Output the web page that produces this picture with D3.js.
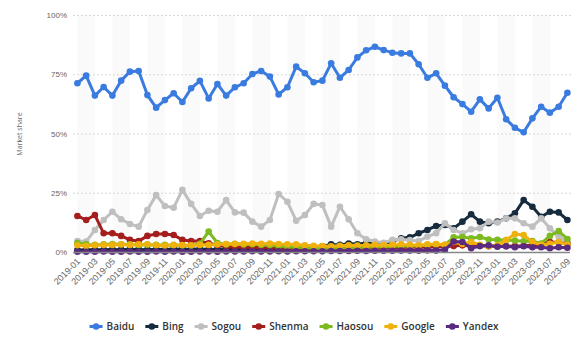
<!DOCTYPE html>
<html><head><meta charset="utf-8">
<script src="https://cdn.jsdelivr.net/npm/d3@7"></script>
<style>
html,body{margin:0;padding:0;background:#fff;}
svg{display:block;font-family:"Open Sans",sans-serif;}
</style></head>
<body><svg id="c" width="586" height="355"></svg>
<script>
const months = ["2019-01","2019-02","2019-03","2019-04","2019-05","2019-06","2019-07","2019-08","2019-09","2019-10","2019-11","2019-12",
"2020-01","2020-02","2020-03","2020-04","2020-05","2020-06","2020-07","2020-08","2020-09","2020-10","2020-11","2020-12",
"2021-01","2021-02","2021-03","2021-04","2021-05","2021-06","2021-07","2021-08","2021-09","2021-10","2021-11","2021-12",
"2022-01","2022-02","2022-03","2022-04","2022-05","2022-06","2022-07","2022-08","2022-09","2022-10","2022-11","2022-12",
"2023-01","2023-02","2023-03","2023-04","2023-05","2023-06","2023-07","2023-08","2023-09"];
const yTicks = [0,25,50,75,100];
const baidu = [71.2,74.4,66,69.6,66,72.3,76.1,76.4,66.2,60.9,64.1,67,63.3,69.1,72.2,64.8,70.9,66,69.5,71.2,75.1,76.4,74,66.5,69.5,78.2,75.4,71.6,72.3,79.6,73.5,76.8,82.1,85.1,86.6,85.2,84.1,83.8,83.8,79.2,73.5,75.4,70.2,65.3,62.4,59.2,64.4,60.6,65.1,56,52.4,50.5,56.4,61.3,58.8,61.3,67.2];
const bing = [0.8,0.9,1,1,1.1,1,1.2,1.1,1,1.2,1.1,1.3,1.2,1.2,1.3,1.1,1.2,1.3,1.2,1.3,1.4,1.3,1.4,1.5,1.6,1.8,1.7,2,2.4,3.2,3,3.6,3.3,3.8,3.5,3.4,4.5,5.8,6.2,7.9,9.3,11,11.4,10,12.8,15.9,12.8,12.1,12.8,14.2,16.3,21.9,19.1,14.9,17,16.7,13.5];
const sogou = [4.6,4.4,9.3,13.5,17,13.8,11.8,10.7,17.7,24,19.4,18.7,26.2,20.3,15.2,17.4,17,21.9,16.7,16.6,12.8,10.7,13.5,24.5,21.2,13.2,15.6,20.3,19.8,10.7,19.1,13.8,7.9,5.4,4.4,3.9,5.1,5.4,5,4.6,6.5,7.9,12.1,9.3,7.9,9.6,10,12.8,12.4,14.2,14.2,12.1,10.7,14.2,10,6.5,4.4];
const shenma = [15.2,13.5,15.6,7.9,7.9,6.8,5.1,4.6,6.8,7.6,7.6,7.2,5.1,4.6,4.6,3.7,3,2.2,2.2,2,2,1.8,1.8,1.6,1.8,1.5,1.6,1.5,1.7,1.6,1.5,1.6,1.7,1.6,1.7,1.8,1.8,1.9,2,2,2,2.2,2.3,2.5,2.8,2.5,2.6,2.4,2.5,2.4,2.5,2.6,3,3.3,4.2,4,3.5];
const haosou = [3.8,3.2,3,3.2,3.4,3.3,3.2,3,3.1,3,3,2.9,2.8,2.7,3.5,8.6,3.8,3.2,3.5,3.2,3.3,3,2.8,2.5,2.2,2,1.8,1.6,1.5,1.6,1.8,2,1.9,2.1,2.2,2.2,2.4,2.5,2.5,2.6,3,3.2,3,6.2,6.3,5.8,6.3,5.3,5.2,5,4.8,4.5,4.6,3.6,6.8,8.8,5.5];
const google = [2.8,2.5,2.8,3,3,3.2,3,3.2,3.3,2.8,2.7,3,2.9,2.8,3,3,3.2,3.4,3.4,3.5,3.6,3.5,3.6,3.4,3.3,3.2,2.8,2.6,2.5,2.4,2.6,2.8,2.7,2.8,3,2.9,3,3.2,3,2.8,3.2,3.4,3,4.2,3.4,4.2,3,2.4,2.8,5,7.6,7.2,4.2,3,3.5,4.2,3];
const yandex = [0.1,0.1,0.1,0.2,0.1,0.1,0.2,0.1,0.1,0.2,0.1,0.2,0.1,0.1,0.2,0.2,0.1,0.2,0.2,0.2,0.3,0.2,0.2,0.3,0.2,0.3,0.3,0.3,0.3,0.4,0.4,0.4,0.5,0.4,0.5,0.5,0.5,0.6,0.6,0.6,0.7,0.6,0.9,4.4,4.2,1.6,2.5,2.8,2.2,2.4,2,2.4,2,2,1.6,2,1.8];
const seriesNames = ["Baidu","Bing","Sogou","Shenma","Haosou","Google","Yandex"];
const seriesValues = [baidu,bing,sogou,shenma,haosou,google,yandex];
const seriesColors = ["#3a7be0","#162b3e","#bfbfbf","#a51d1d","#7cbb1f","#efb20d","#5a2a7e"];

const svg = d3.select("#c");
const plotL = 73, plotR = 572, plotT = 15, plotB = 252;
const x = d3.scalePoint().domain(months).range([77.4, 567.4]);
const y = d3.scaleLinear().domain([0,100]).range([plotB, plotT]);

// alternating bands
const bandIdx = months.map((m,i)=>i).filter(i=>i%4===0 && i+2<months.length);
svg.append("g").selectAll("rect").data(bandIdx).join("rect")
  .attr("x", i=>x(months[i])).attr("width", i=>x(months[i+2])-x(months[i]))
  .attr("y", plotT).attr("height", plotB-plotT).attr("fill","#fafafa");

// grid
svg.append("g").selectAll("line").data(yTicks.filter(t=>t>0)).join("line")
  .attr("x1",plotL).attr("x2",plotR).attr("y1",d=>y(d)+0.5).attr("y2",d=>y(d)+0.5)
  .attr("stroke","#d8d8d8").attr("stroke-width",1).attr("stroke-dasharray","2,2");

// y axis labels
const yAxis = d3.axisLeft(y).tickValues(yTicks).tickSize(0).tickPadding(6).tickFormat(d=>d+"%");
const gy = svg.append("g").attr("transform",`translate(${plotL},0)`).call(yAxis);
gy.select(".domain").remove();
gy.selectAll("text").attr("fill","#666").style("font-size","8px").attr("x",-6);

// y title
svg.append("text").attr("transform","translate(22,134) rotate(-90)")
  .attr("text-anchor","middle").attr("fill","#666").style("font-size","7px").text("Market share");

// x axis
const xAxis = d3.axisBottom(x).tickValues(months.filter((m,i)=>i%2===0)).tickSize(0).tickPadding(0);
const gx = svg.append("g").attr("transform",`translate(0,${plotB})`).call(xAxis);
gx.select(".domain").remove();
gx.selectAll("text").attr("fill","#666").style("font-size","9px")
  .attr("text-anchor","end").attr("dy",0).attr("y",0)
  .attr("transform","translate(3,10) rotate(-45)");

// lines
const line = d3.line().x((d,i)=>x(months[i])).y(d=>y(d));
seriesValues.forEach((vals,k)=>{
  const g = svg.append("g");
  g.append("path").datum(vals).attr("d",line).attr("fill","none")
    .attr("stroke",seriesColors[k]).attr("stroke-width",3).attr("stroke-linejoin","round");
  g.selectAll("circle").data(vals).join("circle")
    .attr("cx",(d,i)=>x(months[i])).attr("cy",d=>y(d)).attr("r",3.3).attr("fill",seriesColors[k]);
});

// baseline
svg.append("line").attr("x1",plotL).attr("x2",plotR-2).attr("y1",plotB+0.5).attr("y2",plotB+0.5)
  .attr("stroke","#888").attr("stroke-width",1.5);

// legend
const lg = svg.append("g");
let cx = 0;
seriesNames.forEach((n,k)=>{
  const it = lg.append("g");
  it.append("line").attr("x1",0).attr("x2",13).attr("y1",0).attr("y2",0).attr("stroke",seriesColors[k]).attr("stroke-width",3);
  it.append("circle").attr("cx",6.5).attr("cy",0).attr("r",3.3).attr("fill",seriesColors[k]);
  const t = it.append("text").attr("x",17).attr("y",3.5).attr("fill","#333").style("font-size","10px").style("font-weight","600").text(n);
  const w = 17 + t.node().getComputedTextLength();
  it.attr("transform",`translate(${cx},0)`);
  cx += w + 11;
});
const total = cx - 11;
lg.attr("transform",`translate(${(98+490)/2 - total/2},326.5)`);
</script></body></html>
